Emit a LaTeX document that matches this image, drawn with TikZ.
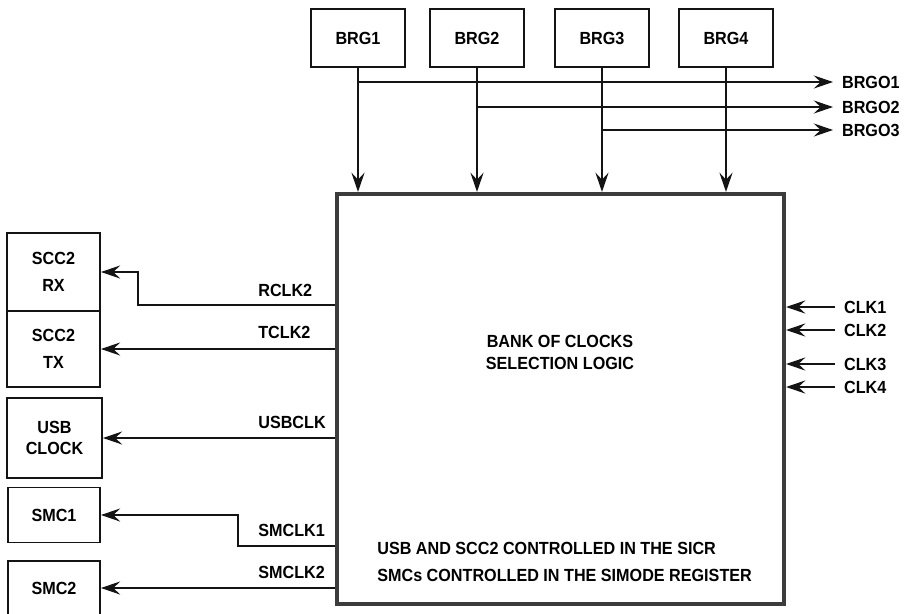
\documentclass[tikz,border=0pt]{standalone}
\usepackage{fontspec}
\setmainfont{Liberation Sans}[FakeStretch=0.92]
\usepackage{tikz}
\usetikzlibrary{arrows.meta, positioning, calc}
\definecolor{mydark}{RGB}{20,20,20}
\definecolor{mygray}{RGB}{60,60,60}
\tikzset{
  unit/.style={rectangle, draw=mydark, line width=1.1pt, align=center,
    font=\bfseries\fontsize{10}{12}\selectfont, minimum width=1.86cm, inner sep=1pt},
  brgbox/.style={unit, minimum width=1.88cm, minimum height=1.16cm},
  bank/.style={rectangle, draw=mygray, line width=2.4pt,
    minimum width=8.94cm, minimum height=8.2cm},
  sig/.style={font=\bfseries\fontsize{10}{12}\selectfont, inner xsep=5pt, inner ysep=0pt},
  note/.style={font=\bfseries\fontsize{10}{12.5}\selectfont, inner sep=0pt},
  arrow/.style={-{Stealth[length=11pt,width=7.5pt,inset=4pt]}, line width=0.85pt, color=mydark},
  line/.style={line width=0.85pt, color=mydark}
}

\begin{document}
\begin{tikzpicture}[x=0.02cm, y=-0.02cm]
  \useasboundingbox (0,0) rectangle (904,613);
  \foreach \i/\x in {1/358,2/477,3/602,4/726} {
    \node[brgbox] (brg\i) at (\x,38) {BRG\i};
  }
  \node[bank] (bank) at (560.5,399) {};
  \node[note, align=center] (title) at (560,352) {BANK OF CLOCKS\\SELECTION LOGIC};
  \node[note, anchor=west] (sicr) at (377,548) {USB AND SCC2 CONTROLLED IN THE SICR};
  \node[note, anchor=west] (simode) at (377,575) {SMCs CONTROLLED IN THE SIMODE REGISTER};

  \foreach \i/\y in {1/82,2/107,3/130} {
    \node[sig, anchor=west] (brgo\i) at (833,\y) {BRGO\i};
    \draw[arrow] (brg\i.south |- brgo\i.west) -- (brgo\i.west);
  }
  \foreach \i in {1,...,4}
    \draw[arrow] (brg\i.south) -- (brg\i.south |- bank.north);
  \foreach \i/\y in {1/307,2/330,3/364,4/387} {
    \node[sig, anchor=west] (clk\i) at (835,\y) {CLK\i};
    \draw[arrow] (clk\i.west) -- (clk\i.west -| bank.east);
  }

  \node[unit, minimum height=1.55cm] (rx) at (53.5,272) {SCC2\\[3pt]RX};
  \node[unit, minimum height=1.52cm] (tx) at (53.5,349) {SCC2\\[3pt]TX};
  \node[unit, minimum width=1.9cm, minimum height=1.6cm] (usb) at (54.5,438) {USB\\CLOCK};
  \node[unit, minimum width=1.84cm, minimum height=1.1cm] (smc1) at (54,515) {SMC1};
  \node[unit, minimum width=1.84cm, minimum height=1.08cm] (smc2) at (54,588) {SMC2};

  \draw[arrow] (bank.west |- 0,305) -- (138,305) |- (rx.east);
  \draw[arrow] (bank.west |- tx.east) -- (tx.east);
  \draw[arrow] (bank.west |- usb.east) -- (usb.east);
  \draw[arrow] (bank.west |- 0,546) -- (238,546) |- (smc1.east);
  \draw[arrow] (bank.west |- smc2.east) -- (smc2.east);

  \foreach \n/\t/\y in {rclk2/RCLK2/290, tclk2/TCLK2/332, usbclk/USBCLK/422,
      smclk1/SMCLK1/530, smclk2/SMCLK2/572}
    \node[note, anchor=west] (\n) at (258,\y) {\t};
\end{tikzpicture}
\end{document}
